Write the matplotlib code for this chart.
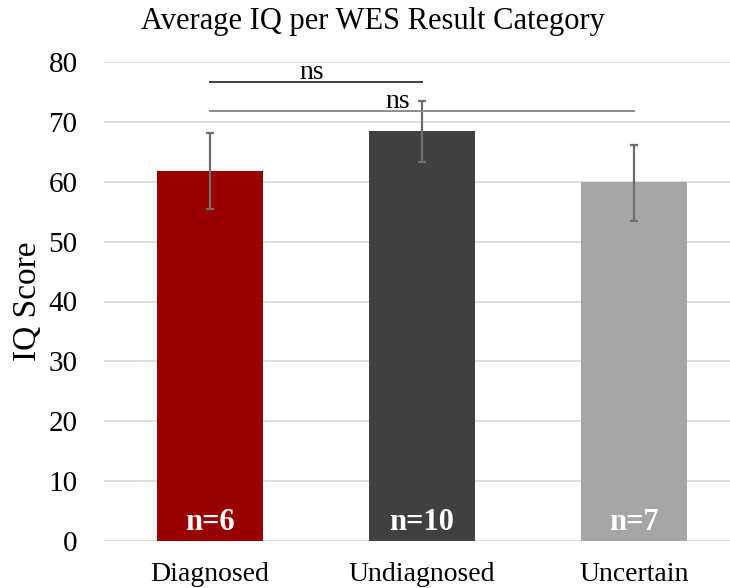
import matplotlib
matplotlib.use('Agg')
import matplotlib.pyplot as plt

# data
categories = ['Diagnosed', 'Undiagnosed', 'Uncertain']
means = [61.8, 68.4, 59.9]
err_low = [6.3, 5.1, 6.4]
err_high = [6.4, 5.1, 6.3]
n_labels = ['n=6', 'n=10', 'n=7']
colors = ['#990000', '#404040', '#A6A6A6']

# significance brackets: (start cat, end cat, height, text)
sig_pairs = [(0, 1, 76.7, 'ns'), (0, 2, 71.8, 'ns')]
sig_text_x = [0.48, 0.885]
sig_colors = ['#404040', '#8C8C8C']

plt.rcParams['font.family'] = ['Liberation Serif', 'DejaVu Serif']

fig = plt.figure(figsize=(7.3, 5.88), dpi=100)
ax = fig.add_axes([104 / 730, 1 - 541 / 588, 626 / 730, (541 - 62) / 588])

x = list(range(len(categories)))
ax.bar(x, means, width=0.5, color=colors, zorder=2)
ax.errorbar(x, means, yerr=[err_low, err_high], fmt='none', ecolor='#6E6E6E',
            elinewidth=1.6, capsize=2.6, capthick=1.6, zorder=3)

for xi, lab in zip(x, n_labels):
    ax.text(xi, 1.8, lab, ha='center', va='baseline', color='white',
            fontsize=22, fontweight='bold', zorder=4)

# bracket lines
for (a, b, h, txt), tx, c in zip(sig_pairs, sig_text_x, sig_colors):
    ax.plot([a, b], [h, h], color=c, lw=1.4, zorder=3)
    ax.text(tx, h + 0.45, txt, ha='center', va='baseline', fontsize=20)

ax.set_xlim(-0.5, 2.453)
ax.set_ylim(0, 80)
ax.set_yticks(range(0, 81, 10))
ax.set_xticks(x)
ax.set_xticklabels(categories)
ax.tick_params(axis='x', length=0, labelsize=20, pad=15)
ax.tick_params(axis='y', length=0, labelsize=21, pad=19)
ax.yaxis.grid(True, color='#D9D9D9', lw=1.2, zorder=0)
ax.set_axisbelow(True)
for s in ax.spines.values():
    s.set_visible(False)

ax.set_ylabel('IQ Score', fontsize=24, labelpad=4)
fig.text(373 / 730, 1 - 21 / 588, 'Average IQ per WES Result Category',
         ha='center', va='center', fontsize=22)

fig.savefig('out.png', dpi=100)
